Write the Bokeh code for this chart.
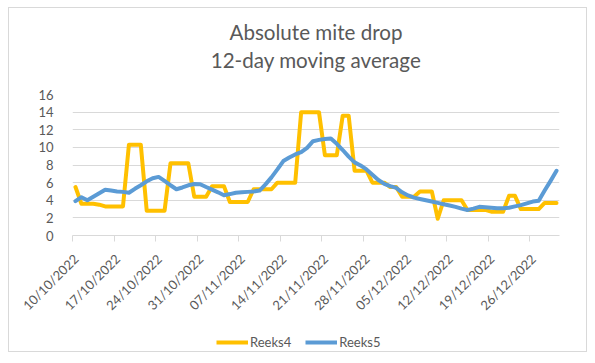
import numpy as np
import pandas as pd
from bokeh.plotting import figure
from bokeh.layouts import column
from bokeh.models import ColumnDataSource, FixedTicker, Range1d, Title, Legend, LegendItem
from bokeh.embed import file_html
from bokeh.resources import INLINE

# ---------------- data ----------------
start_date = "2022-10-10"
end_date = "2022-12-30"
dates = pd.date_range(start_date, end_date, freq="D")

reeks4 = [5.5,
          3.6, 3.6, 3.6, 3.5,
          3.3, 3.3, 3.3, 3.3,
          10.3, 10.3, 10.3,
          2.8, 2.8, 2.8, 2.8,
          8.2, 8.2, 8.2, 8.2,
          4.4, 4.4, 4.4,
          5.6, 5.6, 5.6,
          3.8, 3.8, 3.8, 3.8,
          5.25, 5.25, 5.25, 5.25,
          6.0, 6.0, 6.0, 6.0,
          14.0, 14.0, 14.0, 14.0,
          9.1, 9.1, 9.1,
          13.6, 13.6,
          7.35, 7.35, 7.35,
          6.0, 6.0, 6.0,
          5.5, 5.5,
          4.4, 4.4, 4.4,
          5.0, 5.0, 5.0,
          1.9,
          4.0, 4.0, 4.0, 4.0,
          2.9, 2.9, 2.9, 2.9,
          2.7, 2.7, 2.7,
          4.5, 4.5,
          3.0, 3.0, 3.0, 3.0,
          3.7, 3.7, 3.7]

reeks5 = [3.9, 4.35, 4.0, 4.4, 4.8, 5.2, 5.1, 5.0, 4.95, 4.85,
          5.3, 5.7, 6.15, 6.5, 6.65, 6.2, 5.7, 5.25, 5.45, 5.7,
          5.85, 5.82, 5.5, 5.2, 4.9, 4.57, 4.7, 4.85, 4.9, 4.95,
          5.0, 5.1, 5.8, 6.6, 7.5, 8.45, 8.85, 9.2, 9.45, 9.95,
          10.7, 10.85, 10.95, 11.0, 10.4, 9.7, 8.95, 8.3, 7.95, 7.5,
          6.9, 6.3, 5.85, 5.6, 5.4, 4.9, 4.55, 4.3, 4.15, 4.0,
          3.85, 3.7, 3.55, 3.4, 3.25, 3.05, 2.9, 3.05, 3.25, 3.2,
          3.15, 3.1, 3.1, 3.15, 3.3, 3.45, 3.65, 3.85, 3.95, 5.1,
          6.2, 7.35]

tick_labels = ["10/10/2022", "17/10/2022", "24/10/2022", "31/10/2022",
               "07/11/2022", "14/11/2022", "21/11/2022", "28/11/2022",
               "05/12/2022", "12/12/2022", "19/12/2022", "26/12/2022"]
y_ticks = [0, 2, 4, 6, 8, 10, 12, 14, 16]

title_lines = ["Absolute mite drop", "12-day moving average"]
series_names = ["Reeks4", "Reeks5"]
series_colors = ["#FFC000", "#5B9BD5"]

# ---------------- build ----------------
day_index = np.arange(len(dates))
tick_dates = pd.to_datetime(tick_labels, dayfirst=True)
tick_pos = [int((d - dates[0]).days) for d in tick_dates]
label_shift = 0.1
label_pos = [t + label_shift for t in tick_pos]
boundaries = [t - 0.5 for t in tick_pos]

src = ColumnDataSource(dict(x=day_index, reeks4=reeks4, reeks5=reeks5))

FONT = "Lato"
TXT = "#595959"
GRID = "#d9d9d9"
LBL = "13px"
TTL = "20.6px"
W = 577

p = figure(frame_width=487, frame_height=141,
           min_border_left=63, min_border_right=W - 63 - 487,
           min_border_top=86, min_border_bottom=99,
           x_range=Range1d(-0.5, len(dates) - 0.5), y_range=Range1d(0, 16),
           output_backend="svg", toolbar_location=None,
           background_fill_color="white", border_fill_color="white",
           outline_line_color=None)

r4 = p.line(x="x", y="reeks4", source=src, line_color=series_colors[0],
            line_width=4, line_join="round", line_cap="round")
r5 = p.line(x="x", y="reeks5", source=src, line_color=series_colors[1],
            line_width=4, line_join="round", line_cap="round")

# y axis
p.yaxis.ticker = FixedTicker(ticks=y_ticks)
p.yaxis.axis_line_color = None
p.yaxis.major_tick_line_color = None
p.yaxis.minor_tick_line_color = None
p.yaxis.major_label_standoff = 13
p.yaxis.major_label_text_font = FONT
p.yaxis.major_label_text_font_size = LBL
p.yaxis.major_label_text_color = TXT
p.ygrid.ticker = FixedTicker(ticks=y_ticks)
p.ygrid.grid_line_color = GRID
p.xgrid.visible = False

# x axis
p.xaxis.ticker = FixedTicker(ticks=label_pos, minor_ticks=boundaries)
p.xaxis.major_label_overrides = {pos: lab for pos, lab in zip(label_pos, tick_labels)}
p.xaxis.major_label_orientation = np.pi / 4
p.xaxis.major_tick_line_color = None
p.xaxis.major_tick_out = 0
p.xaxis.major_tick_in = 0
p.xaxis.minor_tick_line_color = GRID
p.xaxis.minor_tick_out = 6
p.xaxis.minor_tick_in = 0
p.xaxis.axis_line_color = GRID
p.xaxis.major_label_standoff = 15
p.xaxis.major_label_text_font = FONT
p.xaxis.major_label_text_font_size = LBL
p.xaxis.major_label_text_color = TXT

# title: white spacer nearest the plot (added first), then line 2, then p.title (line 1)
spacer_top = Title(text=".", text_font_size="17.7px", text_color="white", standoff=8)
p.add_layout(spacer_top, "above")
t2 = Title(text=title_lines[1], align="center", text_font=FONT,
           text_font_size=TTL, text_font_style="normal", text_color=TXT,
           standoff=0)
p.add_layout(t2, "above")
p.title.text = title_lines[0]
p.title.align = "center"
p.title.text_font = FONT
p.title.text_font_size = TTL
p.title.text_font_style = "normal"
p.title.text_color = TXT
p.title.standoff = 3

# legend strip underneath (its own small canvas, legend inside its frame)
LEG_H = 17
pl = figure(width=W, height=LEG_H, min_border=0,
            x_range=Range1d(0, 1), y_range=Range1d(0, 1),
            output_backend="svg", toolbar_location=None,
            background_fill_color="white", border_fill_color="white",
            outline_line_color=None)
pl.axis.visible = False
pl.grid.visible = False
placeholder = ColumnDataSource(dict(x=[np.nan], y=[np.nan]))
l4 = pl.line(x="x", y="y", source=placeholder, line_color=series_colors[0], line_width=4)
l5 = pl.line(x="x", y="y", source=placeholder, line_color=series_colors[1], line_width=4)
legend = Legend(items=[LegendItem(label=series_names[0], renderers=[l4]),
                       LegendItem(label=series_names[1], renderers=[l5])],
                location=(144, 1), orientation="horizontal",
                glyph_width=32, glyph_height=14, label_height=14,
                label_standoff=2, spacing=14, padding=0, margin=0,
                border_line_color=None, background_fill_alpha=0,
                label_text_font=FONT, label_text_font_size=LBL,
                label_text_color=TXT)
pl.add_layout(legend)

layout = column(p, pl, spacing=0)
layout.styles = {"border": "1px solid #d9d9d9", "margin-left": "8px", "margin-top": "7px"}

open("out.html", "w").write(file_html(layout, INLINE))
